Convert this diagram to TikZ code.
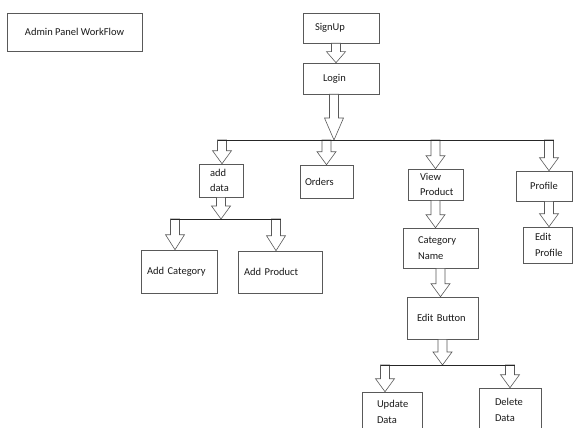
\documentclass[tikz,border=0pt]{standalone}
\usepackage{fontspec}
\setmainfont{Carlito}
\usetikzlibrary{calc,positioning}

% hollow block arrow, straight down from #2 to the level of #3
\newcommand\blockarrow[3][13]{%
    \draw[hollow] let \p1=(#2), \p2=(#3) in
        (\x1-4.5pt,\y1) -- (\x1-4.5pt,\y2+#1pt) -- (\x1-9.5pt,\y2+#1pt)
        -- (\x1,\y2) -- (\x1+9.5pt,\y2+#1pt) -- (\x1+4.5pt,\y2+#1pt)
        -- (\x1+4.5pt,\y1) -- cycle;
}

\begin{document}
\begin{tikzpicture}[x=1pt, y=-1pt
    , every node/.style={inner sep=0pt, font=\fontsize{10.5}{15.5}\selectfont, text=black!90}
    , box/.style={draw=black!65, line width=.6pt, align=left}
    , hollow/.style={draw=black!65, line width=.6pt, fill=white}
    , bus/.style={draw=black!85, line width=.9pt}
]
    \path[use as bounding box, clip] (0,0) rectangle (576,428);

    \node[box, align=center, minimum width=135, minimum height=38] (title) at (74.5,32) {Admin Panel WorkFlow};

    % top of the flow
    \node[box, text width=52, inner xsep=12, minimum height=30] (signup) at (341,28) {SignUp};
    \node[box, text width=36, inner xsep=20, minimum height=31] (login) at (341,78.5) {Login};

    % first level
    \node[box, text width=22, inner xsep=11, minimum height=33] (adddata) at (221,180.5) {add\\data};
    \node[box, text width=43, inner xsep=5, minimum height=33] (orders) at (326.5,181.5) {Orders};
    \node[box, text width=31, inner xsep=12, minimum height=31] (viewprod) at (435.5,184.5) {View\\Product};
    \node[box, align=center, minimum width=56, minimum height=30] (profile) at (544,186) {Profile};

    % below add data
    \node[box, text width=64, inner xsep=6, minimum height=43] (addcat) at (179,271.5) {Add Category};
    \node[box, text width=72, inner xsep=6, minimum height=42] (addprod) at (280,272) {Add Product};

    % below view product
    \node[box, text width=45, inner xsep=15, minimum height=40] (catname) at (440.5,248) {Category\\Name};
    \node[box, text width=51, inner xsep=10, minimum height=42] (editbtn) at (442.5,318) {Edit Button};
    \node[box, text width=30, inner xsep=15, minimum height=40] (update) at (392,412) {Update\\Data};
    \node[box, text width=30, inner xsep=16, minimum height=44] (delete) at (510,410) {Delete\\Data};

    % below profile
    \node[box, text width=25, inner xsep=12, minimum height=36] (editprof) at (547.5,245) {Edit\\Profile};

    \coordinate (bus1w) at (222,140);
    \coordinate (bus1e) at (549,140);
    \coordinate (bus3w) at (175,219);
    \coordinate (bus3e) at (276,219);
    \coordinate (bus2w) at (385,365);
    \coordinate (bus2e) at (510,365);

    \blockarrow[11]{[xshift=-5pt]signup.south}{login.north}
    \blockarrow[22]{[xshift=-7pt]login.south}{bus1w}

    \blockarrow{bus1w}{adddata.north}
    \blockarrow{orders.north |- bus1w}{orders.north}
    \blockarrow{viewprod.north |- bus1w}{viewprod.north}
    \blockarrow{bus1e}{profile.north}

    \blockarrow{adddata.south}{bus3w}
    \blockarrow[15]{bus3w}{addcat.north}
    \blockarrow[15]{bus3e}{addprod.north}

    \blockarrow{viewprod.south}{catname.north}
    \blockarrow{catname.south}{editbtn.north}
    \blockarrow{editbtn.south}{bus2w}
    \blockarrow{bus2w}{update.north}
    \blockarrow{bus2e}{delete.north}

    \blockarrow{profile.south -| bus1e}{editprof.north}

    % branch lines
    \draw[bus] ([xshift=-4.5pt]bus1w) -- ([xshift=4.5pt]bus1e);
    \draw[bus] ([xshift=-4.5pt]bus3w) -- ([xshift=4.5pt]bus3e);
    \draw[bus] ([xshift=-4.5pt]bus2w) -- ([xshift=4.5pt]bus2e);
\end{tikzpicture}
\end{document}
